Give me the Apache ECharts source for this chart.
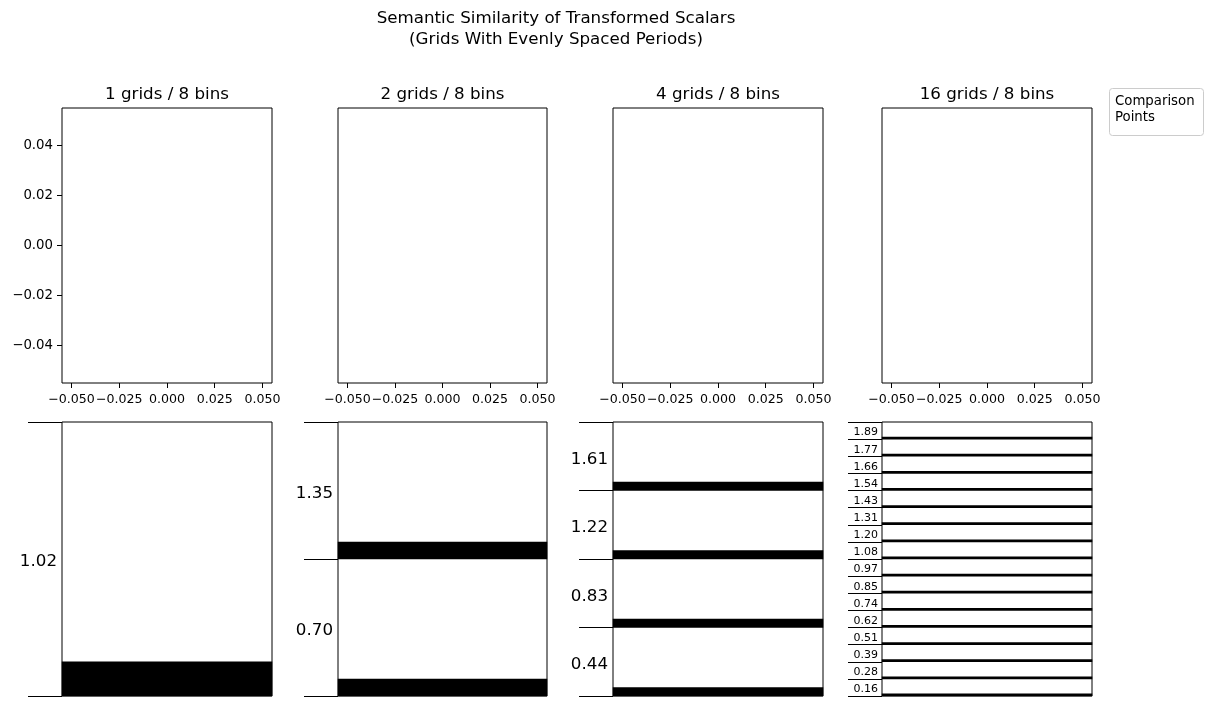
<!DOCTYPE html>
<html><head><meta charset="utf-8">
<script src="https://cdn.jsdelivr.net/npm/echarts@6/dist/echarts.min.js"></script>
<style>html,body{margin:0;padding:0;background:#fff}#c{width:1218px;height:711px}</style>
</head><body><div id="c"></div>
<script>
// ---------------- data ----------------
const suptitleLines = ['Semantic Similarity of Transformed Scalars', '(Grids With Evenly Spaced Periods)'];
const panelTitles = ['1 grids / 8 bins', '2 grids / 8 bins', '4 grids / 8 bins', '16 grids / 8 bins'];
const topXTicks = [-0.05, -0.025, 0, 0.025, 0.05];
const topYTicks = [-0.04, -0.02, 0, 0.02, 0.04];
const topRange = [-0.055, 0.055];
const binsPerGrid = 8;
const periods1 = ['1.02'];
const periods2 = ['0.70', '1.35'];
const periods4 = ['0.44', '0.83', '1.22', '1.61'];
const periods16 = ['0.16', '0.28', '0.39', '0.51', '0.62', '0.74', '0.85', '0.97',
                   '1.08', '1.20', '1.31', '1.43', '1.54', '1.66', '1.77', '1.89'];
// cell activations per grid (rows bottom-up), bins bottom-up
const cells1 = [[1,0,0,0,0,0,0,0]];
const cells2 = [[1,0,0,0,0,0,0,0],[1,0,0,0,0,0,0,0]];
const cells4 = [[1,0,0,0,0,0,0,0],[1,0,0,0,0,0,0,0],[1,0,0,0,0,0,0,0],[1,0,0,0,0,0,0,0]];
const cells16 = [
  [1,0,0,0,0,0,0,0],[1,0,0,0,0,0,0,0],[1,0,0,0,0,0,0,0],[1,0,0,0,0,0,0,0],
  [1,0,0,0,0,0,0,0],[1,0,0,0,0,0,0,0],[1,0,0,0,0,0,0,0],[1,0,0,0,0,0,0,0],
  [1,0,0,0,0,0,0,0],[1,0,0,0,0,0,0,0],[1,0,0,0,0,0,0,0],[1,0,0,0,0,0,0,0],
  [1,0,0,0,0,0,0,0],[1,0,0,0,0,0,0,0],[1,0,0,0,0,0,0,0],[1,0,0,0,0,0,0,0]];
const legendTitle = 'Comparison\nPoints';

// ---------------- layout ----------------
const FONT = 'DejaVu Sans';
const cols = [{left: 62, width: 210}, {left: 338, width: 209}, {left: 613, width: 210}, {left: 882, width: 210}];
const topRow = {top: 108, height: 275};
const botRow = {top: 422, height: 274};
const periodSets = [periods1, periods2, periods4, periods16];
const cellSets = [cells1, cells2, cells4, cells16];
const periodFont = [16.7, 16.7, 16.7, 11];

const fmtNum = (v, d) => (v < 0 ? '\u2212' : '') + Math.abs(v).toFixed(d);

const grid = [], xAxis = [], yAxis = [], series = [];
cols.forEach((c, i) => {
  grid.push({left: c.left, width: c.width, top: topRow.top, height: topRow.height,
             show: true, borderColor: '#000', borderWidth: 1, backgroundColor: 'transparent'});
});
cols.forEach((c, i) => {
  grid.push({left: c.left, width: c.width, top: botRow.top, height: botRow.height,
             show: true, borderColor: '#000', borderWidth: 1, backgroundColor: 'transparent'});
});
// top value axes
cols.forEach((c, i) => {
  xAxis.push({type: 'value', gridIndex: i, position: 'bottom', min: topRange[0], max: topRange[1],
    splitLine: {show: false}, axisLine: {show: false, onZero: false},
    axisTick: {show: true, length: 5, customValues: topXTicks, lineStyle: {color: '#000', width: 1}},
    axisLabel: {show: true, customValues: topXTicks, margin: 10, color: '#000', fontFamily: FONT, fontSize: 12.6,
      showMinLabel: true, showMaxLabel: true, hideOverlap: false,
      formatter: v => fmtNum(v, 3)}});
  yAxis.push({type: 'value', gridIndex: i, position: 'left', min: topRange[0], max: topRange[1], show: i === 0,
    splitLine: {show: false}, axisLine: {show: false, onZero: false},
    axisTick: {show: true, length: 5, customValues: topYTicks, lineStyle: {color: '#000', width: 1}},
    axisLabel: {show: true, customValues: topYTicks, margin: 9, color: '#000', fontFamily: FONT, fontSize: 13.3,
      showMinLabel: true, showMaxLabel: true,
      formatter: v => fmtNum(v, 2)}});
  series.push({type: 'line', xAxisIndex: i, yAxisIndex: i, data: [], silent: true});
});
// bottom heatmap axes
cols.forEach((c, i) => {
  const nBins = periodSets[i].length * binsPerGrid;
  const binCats = [];
  for (let b = 0; b < nBins; b++) binCats.push(String(b));
  xAxis.push({type: 'category', gridIndex: 4 + i, data: ['x'], show: false});
  yAxis.push({type: 'category', gridIndex: 4 + i, data: binCats, show: false});
});
// bottom period-label axes
cols.forEach((c, i) => {
  yAxis.push({type: 'category', gridIndex: 4 + i, data: periodSets[i], position: 'left',
    axisLine: {show: false, onZero: false},
    axisTick: {show: true, length: 34, lineStyle: {color: '#000', width: 1}},
    axisLabel: {color: '#000', fontFamily: FONT, fontSize: periodFont[i], margin: i === 3 ? 4 : 5, interval: 0,
      verticalAlign: 'top', lineHeight: i === 3 ? 4 : 6,
      showMinLabel: true, showMaxLabel: true},
    splitLine: {show: false}});
});
// heatmap series
const heatIdx = [];
cols.forEach((c, i) => {
  const data = [];
  cellSets[i].forEach((row, g) => row.forEach((v, b) => data.push([0, g * binsPerGrid + b, v])));
  heatIdx.push(series.length);
  series.push({type: 'heatmap', xAxisIndex: 4 + i, yAxisIndex: 4 + i, data,
    itemStyle: {borderWidth: 0}, emphasis: {disabled: true}, silent: true});
});

const graphic = [];
suptitleLines.forEach((t, k) => graphic.push({type: 'text', x: 556, y: 19 + k * 21,
  style: {text: t, font: '16.7px "DejaVu Sans"', fill: '#000', align: 'center', verticalAlign: 'middle',
          textAlign: 'center', textVerticalAlign: 'middle'}}));
cols.forEach((c, i) => graphic.push({type: 'text', x: c.left + c.width / 2, y: 95,
  style: {text: panelTitles[i], font: '16.7px "DejaVu Sans"', fill: '#000', align: 'center', verticalAlign: 'middle',
          textAlign: 'center', textVerticalAlign: 'middle'}}));
graphic.push({type: 'rect', shape: {x: 1109.5, y: 88.5, width: 94, height: 47, r: 3},
  style: {fill: 'rgba(255,255,255,0.8)', stroke: '#cccccc', lineWidth: 1}});
graphic.push({type: 'text', x: 1115, y: 94,
  style: {text: legendTitle, font: '13.3px "DejaVu Sans"', fill: '#000', lineHeight: 16, align: 'left', verticalAlign: 'top',
          textAlign: 'left', textVerticalAlign: 'top'}});

const chart = echarts.init(document.getElementById('c'), null, {renderer: 'canvas'});
chart.setOption({
  animation: false,
  backgroundColor: '#ffffff',
  textStyle: {fontFamily: FONT},
  grid, xAxis, yAxis, series, graphic,
  visualMap: {show: false, type: 'continuous', min: 0, max: 1, seriesIndex: heatIdx,
    inRange: {color: ['rgba(255,255,255,0)', '#000000']}}
});
</script></body></html>
